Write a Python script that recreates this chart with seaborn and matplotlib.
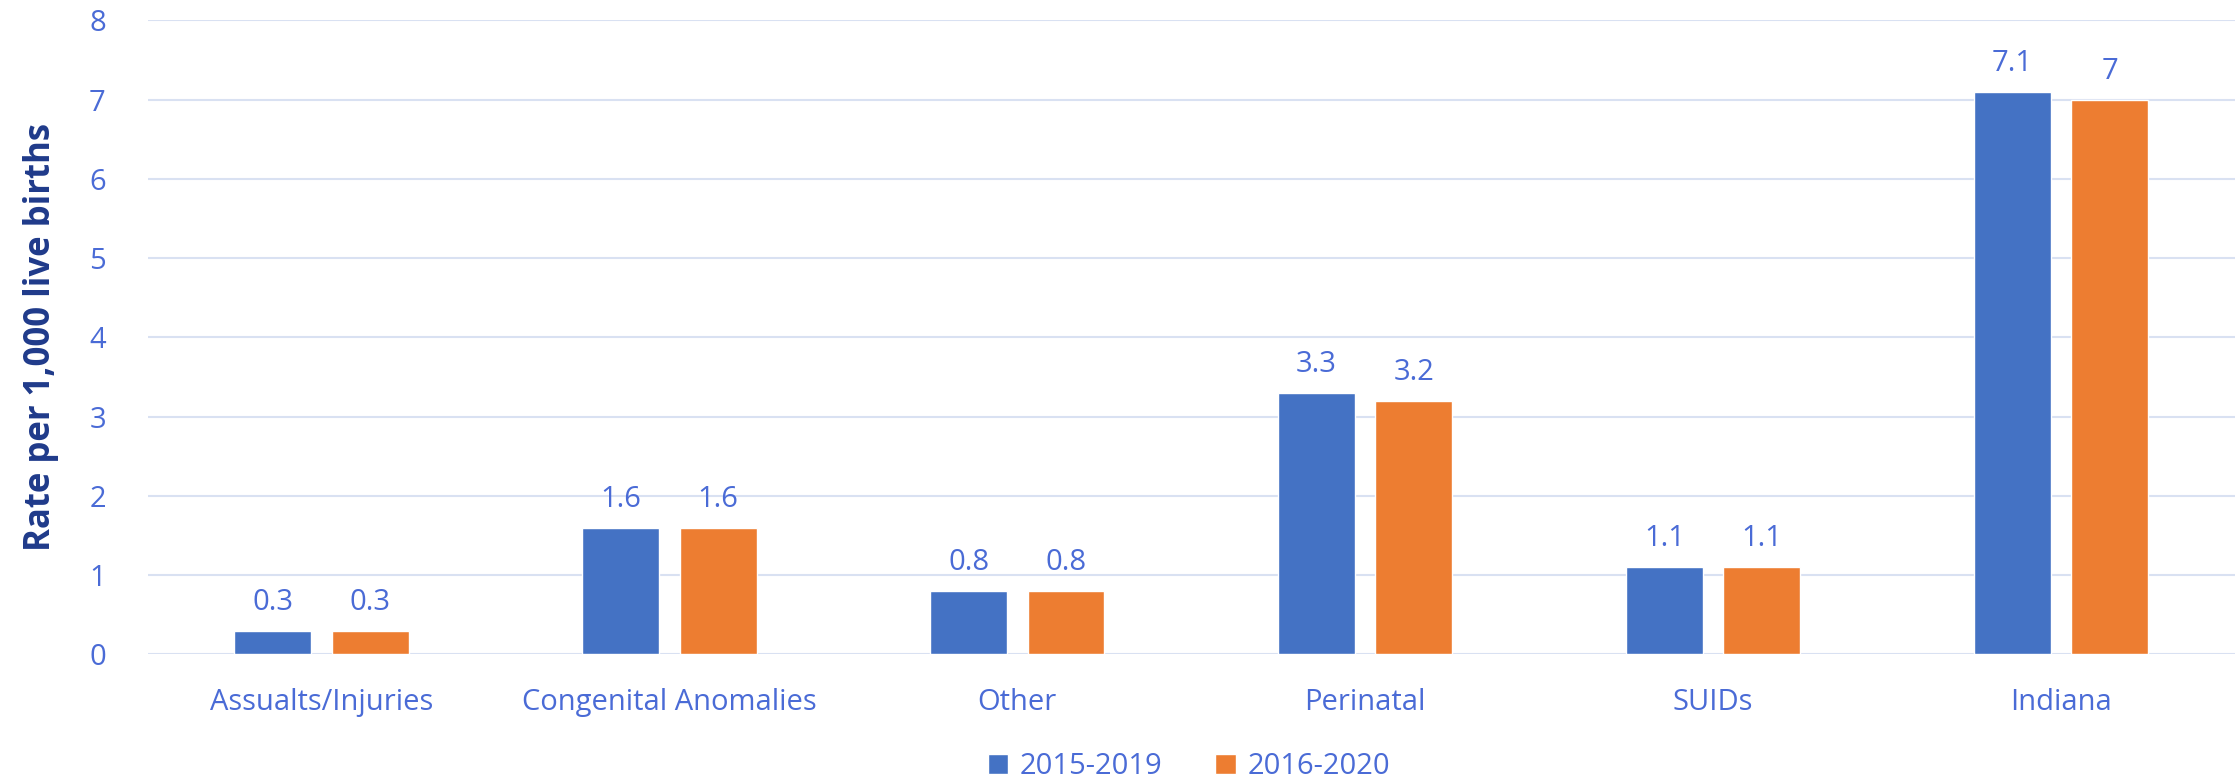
import numpy as np
import pandas as pd
import matplotlib
matplotlib.use("Agg")
import matplotlib.pyplot as plt
import seaborn as sns
from matplotlib.patches import Patch

categories = ["Assualts/Injuries", "Congenital Anomalies", "Other", "Perinatal", "SUIDs", "Indiana"]
rate_2015_2019 = [0.3, 1.6, 0.8, 3.3, 1.1, 7.1]
rate_2016_2020 = [0.3, 1.6, 0.8, 3.2, 1.1, 7.0]
labels_2015_2019 = ["0.3", "1.6", "0.8", "3.3", "1.1", "7.1"]
labels_2016_2020 = ["0.3", "1.6", "0.8", "3.2", "1.1", "7"]
periods = ["2015-2019", "2016-2020"]

df = pd.DataFrame({
    "category": categories * 2,
    "rate": rate_2015_2019 + rate_2016_2020,
    "period": [periods[0]] * 6 + [periods[1]] * 6,
})

blue = "#4472C4"
orange = "#ED7D31"
text_blue = "#4A6BD6"
navy = "#1F3A8A"
grid_c = "#D9E1F2"

sns.set_theme(style="white")
plt.rcParams["font.family"] = ["Open Sans", "DejaVu Sans"]

fig = plt.figure(figsize=(22.35, 7.79), dpi=100)
ax = fig.add_axes([0.066, 0.160, 0.934, 0.814])

sns.barplot(data=df, x="category", y="rate", hue="period", order=categories,
            hue_order=periods, palette=[blue, orange], width=0.56, gap=0.21,
            ax=ax, legend=False, saturation=1)

for cont, labs in zip(ax.containers, [labels_2015_2019, labels_2016_2020]):
    ax.bar_label(cont, labels=labs, padding=10, fontsize=21, color=text_blue)

ax.set_ylim(0, 8)
ax.set_xlim(-0.5, 5.5)
ax.set_yticks(range(0, 9))
ax.yaxis.grid(True, color=grid_c, linewidth=1.5)
ax.set_axisbelow(True)
for s in ax.spines.values():
    s.set_visible(False)
ax.tick_params(axis="y", labelsize=21, labelcolor=text_blue, pad=30, length=0)
ax.tick_params(axis="x", labelsize=21, labelcolor=text_blue, pad=24, length=0)
ax.set_xlabel("")
ax.set_ylabel("Rate per 1,000 live births", fontsize=25, fontweight="bold", color=navy, labelpad=22)

handles = [Patch(facecolor=blue, label=periods[0]), Patch(facecolor=orange, label=periods[1])]
fig.legend(handles=handles, loc="center", bbox_to_anchor=(0.532, 0.016), ncol=2, frameon=False,
           fontsize=21, labelcolor=text_blue, handlelength=0.7, handleheight=0.7,
           handletextpad=0.4, columnspacing=1.8)

fig.savefig("out.png", dpi=100)
